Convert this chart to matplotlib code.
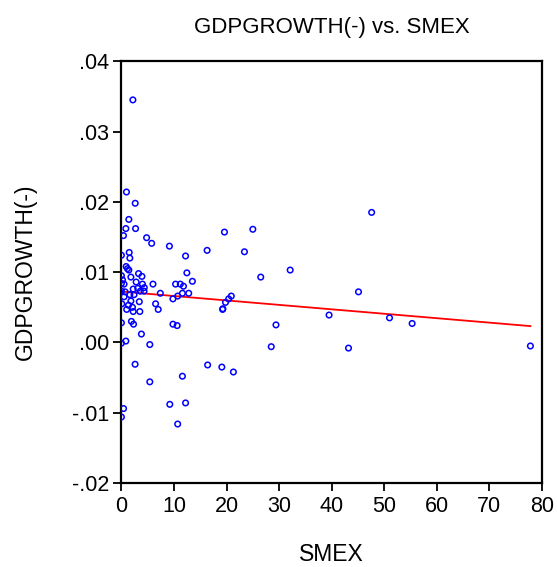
import numpy as np
import matplotlib.pyplot as plt

plt.rcParams['font.family'] = ['Liberation Sans', 'DejaVu Sans']

# valores (SMEX, GDPGROWTH(-))
smex = [2.18, 0.96, 2.62, 1.41, 2.69, 0.84, 0.39, 4.79, 5.75, 9.13,
        12.2, 16.3, 19.6, 0.0, 1.48, 1.6, 0.9, 1.41, 1.8, 3.26,
        3.9, 12.45, 0.0, 25.0, 23.4, 47.6, 26.5, 32.1, 45.1, 20.9,
        20.4, 19.8, 19.3, 19.25, 39.5, 51.0, 55.3, 29.4, 28.5, 43.2,
        77.8, 19.1, 21.3, 13.5, 0.2, 0.5, 2.8, 4.0, 6.0, 10.3,
        11.2, 11.8, 2.24, 3.1, 4.35, 3.6, 4.3, 0.7, 1.6, 2.4,
        7.4, 11.6, 12.8, 10.7, 9.8, 0.5, 1.8, 3.4, 0.07, 1.35,
        2.1, 1.0, 6.5, 7.0, 3.5, 2.24, 1.9, 2.3, 0.0, 9.8,
        10.6, 3.8, 0.84, 0.0, 5.4, 2.6, 5.4, 16.4, 11.6, 9.2,
        12.2, 0.4, 0.0, 10.7, 1.15, 0.0, 0.0]
gdpgrowth = [.0345, .0214, .0198, .0175, .0162, .0162, .0152, .0149, .0141, .0137,
             .0123, .0131, .0157, .0124, .0128, .0120, .0108, .0103, .0093, .0098,
             .0094, .0099, .0095, .0161, .0129, .0185, .0093, .0103, .0072, .0066,
             .0062, .0057, .0048, .0047, .0039, .0035, .0027, .0025, -.0006, -.0008,
             -.0005, -.0035, -.0042, .0087, .0089, .0083, .0086, .0083, .0083, .0083,
             .0083, .0080, .0076, .0077, .0078, .0073, .0073, .0072, .0068, .0068,
             .0070, .0070, .0070, .0066, .0062, .0065, .0059, .0058, .0055, .0053,
             .0050, .0047, .0055, .0047, .0044, .0044, .0030, .0026, .0028, .0026,
             .0024, .0012, .0002, -.0001, -.0003, -.0031, -.0056, -.0032, -.0048, -.0088,
             -.0086, -.0094, -.0106, -.0116, .0105, .0084, .0073]

x = np.array(smex)
y = np.array(gdpgrowth)

fig = plt.figure(figsize=(5.57, 5.67), dpi=100)
ax = fig.add_axes([0.218, 0.148, 0.755, 0.744])

ax.scatter(x, y, s=16, facecolors='none', edgecolors='#0000ff', linewidths=1.1, zorder=3)

# recta de regresion
b, a = np.polyfit(x, y, 1)
xs = np.array([x.min(), x.max()])
ax.plot(xs, a + b * xs, color='#ff0000', linewidth=1.3, zorder=2)

ax.set_xlim(0, 80)
ax.set_ylim(-0.02, 0.04)
ax.set_xticks([0, 10, 20, 30, 40, 50, 60, 70, 80])
ax.set_yticks([-0.02, -0.01, 0.0, 0.01, 0.02, 0.03, 0.04])
ax.set_yticklabels(['-.02', '-.01', '.00', '.01', '.02', '.03', '.04'])

for s in ax.spines.values():
    s.set_linewidth(1.6)
ax.tick_params(direction='out', length=6, width=1.3, labelsize=15.5, pad=3)

ax.set_title('GDPGROWTH(-) vs. SMEX', fontsize=16, pad=20)
ax.set_xlabel('SMEX', fontsize=16.5, labelpad=19)
ax.set_ylabel('GDPGROWTH(-)', fontsize=16.5, labelpad=25)

fig.savefig('out.png', dpi=100)
